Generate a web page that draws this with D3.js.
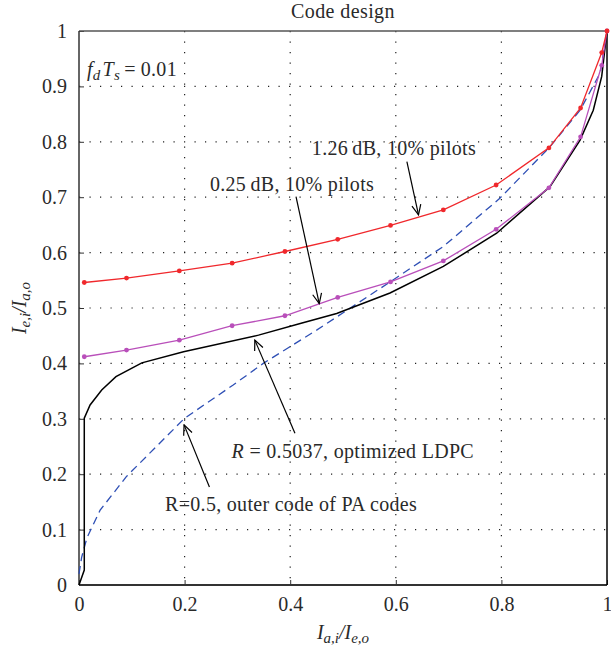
<!DOCTYPE html>
<html>
<head>
<meta charset="utf-8">
<script src="https://cdn.jsdelivr.net/npm/d3@7"></script>
<style>
  body { margin: 0; background: #fff; }
  svg { display: block; }
  text { font-family: "Liberation Serif", "Times New Roman", serif; fill: #2a2a2a; }
</style>
</head>
<body>
<div id="chart"></div>
<script>
  // tick values
  const xTicks = [0, 0.2, 0.4, 0.6, 0.8, 1];
  const yTicks = [0, 0.1, 0.2, 0.3, 0.4, 0.5, 0.6, 0.7, 0.8, 0.9, 1];

  // 1.26 dB, 10% pilots (red) and 0.25 dB, 10% pilots (magenta) share x values
  const pilotX = [0.01, 0.09, 0.19, 0.29, 0.39, 0.49, 0.59, 0.69, 0.79, 0.89, 0.95, 0.99, 1.0];
  const pilots126Y = [0.546, 0.554, 0.567, 0.581, 0.602, 0.624, 0.649, 0.677, 0.722, 0.789, 0.861, 0.961, 1.0];
  const pilots025Y = [0.412, 0.424, 0.442, 0.468, 0.486, 0.519, 0.547, 0.585, 0.642, 0.717, 0.809, 0.938, 1.0];

  // R = 0.5037 optimized LDPC (black)
  const ldpcX = [0, 0.01, 0.01, 0.021, 0.043, 0.07, 0.119, 0.198, 0.34, 0.419, 0.488, 0.589, 0.69, 0.791, 0.892, 0.949, 0.974, 0.99, 1.0];
  const ldpcY = [0, 0.027, 0.301, 0.325, 0.352, 0.376, 0.401, 0.421, 0.451, 0.472, 0.49, 0.527, 0.575, 0.635, 0.719, 0.803, 0.857, 0.918, 1.0];

  // R = 0.5 outer code of PA codes (blue dashed)
  const paX = [0, 0.005, 0.015, 0.04, 0.09, 0.134, 0.2, 0.292, 0.349, 0.45, 0.589, 0.69, 0.797, 0.892, 0.949, 0.987, 1.0];
  const paY = [0.02, 0.05, 0.085, 0.135, 0.196, 0.238, 0.301, 0.361, 0.4, 0.46, 0.547, 0.611, 0.698, 0.791, 0.857, 0.924, 1.0];

  // annotations: text anchor (data coords) and arrow from/to (data coords)
  const notes = [
    { text: '1.26\u2009dB, 10% pilots', tx: 0.441, ty: 0.776, from: [0.621, 0.764], to: [0.643, 0.668] },
    { text: '0.25\u2009dB, 10% pilots', tx: 0.248, ty: 0.712, from: [0.411, 0.701], to: [0.455, 0.508] },
    { text: 'LDPC', tx: 0.289, ty: 0.229, from: [0.409, 0.274], to: [0.333, 0.442] },
    { text: 'R=0.5, outer code of PA codes', tx: 0.163, ty: 0.134, from: [0.247, 0.177], to: [0.199, 0.289] }
  ];

  const width = 611, height = 651;
  const margin = { top: 31, right: 4, bottom: 66, left: 79 };
  const fs = 20;

  const svg = d3.select('#chart').append('svg')
    .attr('width', width)
    .attr('height', height);

  const x = d3.scaleLinear().domain([0, 1]).range([margin.left, width - margin.right]);
  const y = d3.scaleLinear().domain([0, 1]).range([height - margin.bottom, margin.top]);

  // grid
  const grid = svg.append('g');
  grid.selectAll('line.h').data(yTicks.slice(1, -1)).enter().append('line')
    .attr('x1', x(0)).attr('x2', x(1))
    .attr('y1', d => y(d)).attr('y2', d => y(d))
    .attr('stroke', '#222').attr('stroke-width', 1.2)
    .attr('stroke-dasharray', '1.2,9.3');
  grid.selectAll('line.v').data(xTicks.slice(1, -1)).enter().append('line')
    .attr('y1', y(1)).attr('y2', y(0))
    .attr('x1', d => x(d)).attr('x2', d => x(d))
    .attr('stroke', '#222').attr('stroke-width', 1.2)
    .attr('stroke-dasharray', '1.2,9.3');

  // axes with inward ticks
  const xAxis = svg.append('g')
    .attr('transform', `translate(0,${y(0)})`)
    .call(d3.axisBottom(x).tickValues(xTicks).tickFormat(d3.format('~g')).tickSizeInner(-5).tickSizeOuter(0).tickPadding(12));
  const yAxis = svg.append('g')
    .attr('transform', `translate(${x(0)},0)`)
    .call(d3.axisLeft(y).tickValues(yTicks).tickFormat(d3.format('~g')).tickSizeInner(-5).tickSizeOuter(0).tickPadding(12));
  [xAxis, yAxis].forEach(a => {
    a.select('.domain').remove();
    a.selectAll('line').attr('stroke', '#333');
    a.selectAll('text').attr('font-size', fs).attr('fill', '#2a2a2a')
      .style('font-family', '"Liberation Serif", serif');
  });

  // frame
  svg.append('line').attr('x1', x(0)).attr('x2', x(1)).attr('y1', y(1)).attr('y2', y(1))
    .attr('stroke', '#555').attr('stroke-width', 1.5);
  svg.append('line').attr('x1', x(0)).attr('x2', x(1)).attr('y1', y(0)).attr('y2', y(0))
    .attr('stroke', '#333').attr('stroke-width', 2);
  svg.append('line').attr('x1', x(0)).attr('x2', x(0)).attr('y1', y(0)).attr('y2', y(1))
    .attr('stroke', '#333').attr('stroke-width', 1.5);
  svg.append('line').attr('x1', x(1)).attr('x2', x(1)).attr('y1', y(0)).attr('y2', y(1))
    .attr('stroke', '#000').attr('stroke-width', 1.5);

  const line = d3.line().x(d => x(d[0])).y(d => y(d[1]));
  const zip = (xs, ys) => xs.map((v, i) => [v, ys[i]]);

  // curves
  svg.append('path').datum(zip(paX, paY))
    .attr('d', line).attr('fill', 'none')
    .attr('stroke', '#2e4fb5').attr('stroke-width', 1.3)
    .attr('stroke-dasharray', '8,5');
  svg.append('path').datum(zip(ldpcX, ldpcY))
    .attr('d', line).attr('fill', 'none')
    .attr('stroke', '#000').attr('stroke-width', 1.5);

  const marked = [
    { ys: pilots025Y, color: '#b94fba' },
    { ys: pilots126Y, color: '#f0282c' }
  ];
  marked.forEach(s => {
    const pts = zip(pilotX, s.ys);
    svg.append('path').datum(pts)
      .attr('d', line).attr('fill', 'none')
      .attr('stroke', s.color).attr('stroke-width', 1.3);
    svg.append('g').selectAll('circle').data(pts).enter().append('circle')
      .attr('cx', d => x(d[0])).attr('cy', d => y(d[1]))
      .attr('r', 2.4).attr('fill', s.color);
  });

  // arrows (open V heads)
  svg.append('defs').append('marker')
    .attr('id', 'arr').attr('viewBox', '0 0 12 12')
    .attr('refX', 11).attr('refY', 6)
    .attr('markerWidth', 12).attr('markerHeight', 12)
    .attr('markerUnits', 'userSpaceOnUse')
    .attr('orient', 'auto')
    .append('path').attr('d', 'M1,1.5 L11,6 L1,10.5')
    .attr('fill', 'none').attr('stroke', '#000').attr('stroke-width', 1.2);

  svg.append('g').selectAll('line').data(notes).enter().append('line')
    .attr('x1', d => x(d.from[0])).attr('y1', d => y(d.from[1]))
    .attr('x2', d => x(d.to[0])).attr('y2', d => y(d.to[1]))
    .attr('stroke', '#000').attr('stroke-width', 1.2)
    .attr('marker-end', 'url(#arr)');

  notes.forEach((d, i) => {
    const t = svg.append('text')
      .attr('x', x(d.tx)).attr('y', y(d.ty))
      .attr('font-size', fs).attr('letter-spacing', 0.3);
    if (i === 2) {
      t.append('tspan').attr('font-style', 'italic').text('R');
      t.append('tspan').text(' = 0.5037, optimized LDPC');
    } else {
      t.text(d.text);
    }
  });

  // f_d T_s = 0.01
  const ft = svg.append('text').attr('x', x(0.015)).attr('y', y(0.919))
    .attr('font-size', fs).attr('letter-spacing', 0.3);
  ft.append('tspan').attr('font-style', 'italic').text('f');
  ft.append('tspan').attr('font-style', 'italic').attr('font-size', 15).attr('dy', 4).text('d');
  ft.append('tspan').attr('font-style', 'italic').attr('dy', -4).attr('dx', 2).text('T');
  ft.append('tspan').attr('font-style', 'italic').attr('font-size', 15).attr('dy', 4).text('s');
  ft.append('tspan').attr('dy', -4).attr('dx', 4).text('=');
  ft.append('tspan').attr('dx', 5).text('0.01');

  // title
  svg.append('text')
    .attr('x', (x(0) + x(1)) / 2).attr('y', 18)
    .attr('text-anchor', 'middle').attr('font-size', fs).attr('letter-spacing', 0.4)
    .text('Code design');

  // axis labels with subscripts
  function subLabel(sel, a, b) {
    sel.append('tspan').attr('font-style', 'italic').text('I');
    sel.append('tspan').attr('font-style', 'italic').attr('font-size', 15).attr('dy', 4).text(a);
    sel.append('tspan').attr('font-style', 'italic').attr('dy', -4).text('/I');
    sel.append('tspan').attr('font-style', 'italic').attr('font-size', 15).attr('dy', 4).text(b);
  }
  const xl = svg.append('text')
    .attr('x', (x(0) + x(1)) / 2).attr('y', 639)
    .attr('text-anchor', 'middle').attr('font-size', fs);
  subLabel(xl, 'a,i', 'e,o');

  const yl = svg.append('text')
    .attr('transform', `translate(26,${(y(0) + y(1)) / 2}) rotate(-90)`)
    .attr('text-anchor', 'middle').attr('font-size', fs);
  subLabel(yl, 'e,i', 'a,o');
</script>
</body>
</html>
